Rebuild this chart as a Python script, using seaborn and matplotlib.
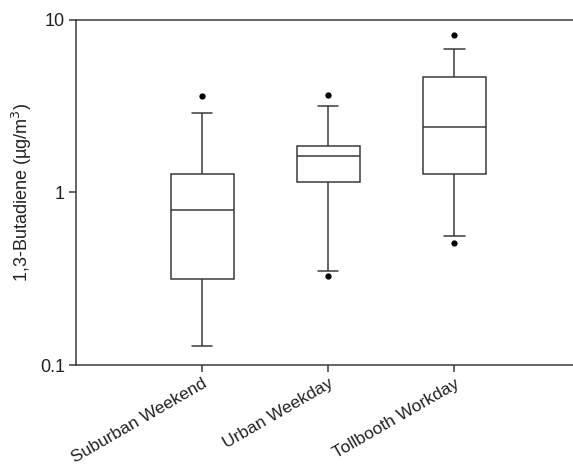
import numpy as np
import pandas as pd
import matplotlib
matplotlib.use("Agg")
import matplotlib.pyplot as plt
import seaborn as sns

# five-number summaries (lower whisker, Q1, median, Q3, upper whisker)
groups = ["Suburban Weekend", "Urban Weekday", "Tollbooth Workday"]
suburban = [0.129, 0.314, 0.79, 1.28, 2.89]
urban = [0.351, 1.14, 1.62, 1.85, 3.15]
tollbooth = [0.557, 1.28, 2.38, 4.62, 6.73]

# points drawn outside the whiskers
out_group = ["Suburban Weekend", "Urban Weekday", "Urban Weekday",
             "Tollbooth Workday", "Tollbooth Workday"]
out_value = [3.6, 3.65, 0.328, 8.08, 0.51]

box_df = pd.DataFrame({
    "site": np.repeat(groups, 5),
    "conc": suburban + urban + tollbooth,
})
out_df = pd.DataFrame({"site": out_group, "conc": out_value})

sns.set_style("ticks")
plt.rcParams["font.family"] = ["Liberation Sans", "DejaVu Sans"]

line_col = "#3a3a3a"
fig = plt.figure(figsize=(5.73, 4.70), dpi=100)
ax = fig.add_axes([0.1326, 0.2234, 0.8674, 0.7351])

sns.boxplot(data=box_df, x="site", y="conc", order=groups, whis=(0, 100),
            width=0.5, color="white", linecolor=line_col, linewidth=1.1,
            log_scale=True, showfliers=False, ax=ax)

# narrower whisker caps, as in the original
for ln in ax.lines:
    xd = np.asarray(ln.get_xdata(), dtype=float)
    yd = np.asarray(ln.get_ydata(), dtype=float)
    if len(xd) == 2 and yd[0] == yd[1] and (xd.max() - xd.min()) < 0.4:
        mid = xd.mean()
        ln.set_xdata([mid - 0.08, mid + 0.08])

sns.stripplot(data=out_df, x="site", y="conc", order=groups, jitter=False,
              color="black", size=4.5, ax=ax)

ax.set_ylim(0.1, 10)
ax.set_xlim(-1, 2.94)
ax.set_yticks([0.1, 1, 10])
ax.set_yticklabels(["0.1", "1", "10"])
ax.yaxis.set_minor_locator(matplotlib.ticker.NullLocator())
ax.set_xlabel("")
ax.set_ylabel("1,3-Butadiene (\u00b5g/m$^3$)", fontsize=13, color="#222222")
plt.setp(ax.get_xticklabels(), rotation=30, ha="right", rotation_mode="anchor",
         fontsize=12.5, color="#222222")
plt.setp(ax.get_yticklabels(), fontsize=13, color="#222222")
ax.tick_params(axis="both", length=5, width=1.1, color=line_col, pad=3)

for side in ["top", "left", "bottom"]:
    ax.spines[side].set_color(line_col)
    ax.spines[side].set_linewidth(1.1)
ax.spines["right"].set_visible(False)

fig.savefig("out.png", dpi=100)
